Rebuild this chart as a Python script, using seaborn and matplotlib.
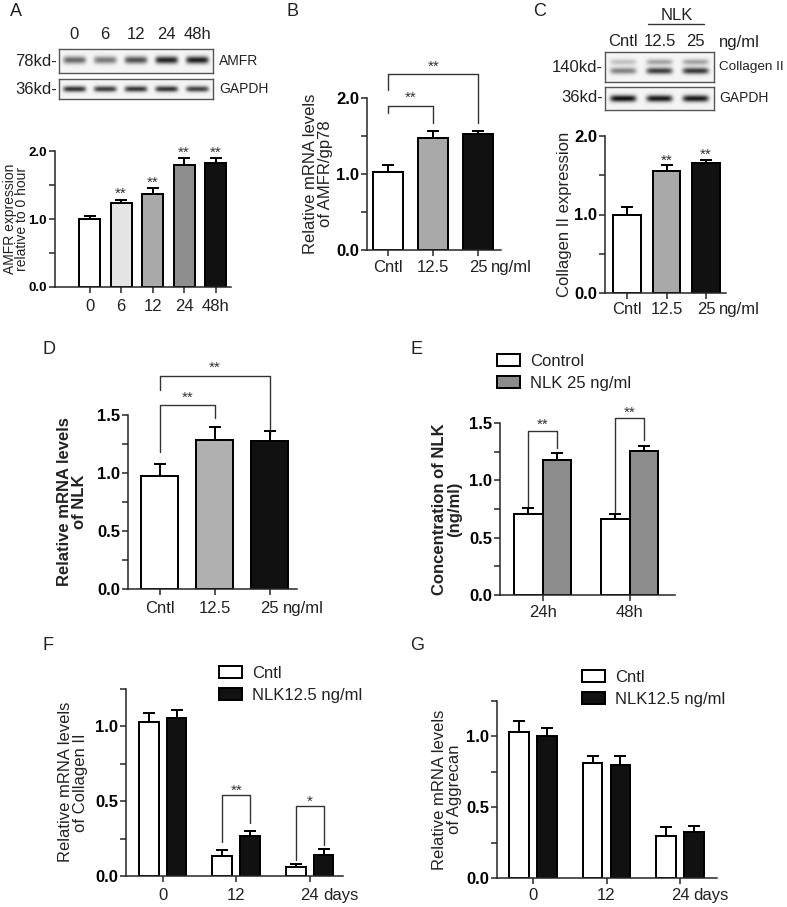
import numpy as np
import pandas as pd
import matplotlib
matplotlib.use('Agg')
import matplotlib.pyplot as plt
import seaborn as sns
from matplotlib.patches import Patch

# A: AMFR protein over time
a_times = ['0', '6', '12', '24', '48h']
a_vals = [1.00, 1.24, 1.37, 1.80, 1.82]
a_errs = [0.05, 0.045, 0.08, 0.09, 0.07]
a_stars = ['', '**', '**', '**', '**']
a_colors = ['white', '#e4e4e4', '#a9a9a9', '#8e8e8e', '#111111']
a_band_amfr = [0.55, 0.48, 0.64, 0.82, 0.84]
a_band_gapdh = [0.76, 0.72, 0.74, 0.76, 0.70]

# B, C, D: NLK dose
doses = ['Cntl', '12.5', '25']
dose_colors = ['white', '#a9a9a9', '#111111']
b_vals = [1.02, 1.47, 1.53]
b_errs = [0.10, 0.10, 0.04]
c_vals = [1.00, 1.56, 1.65]
c_errs = [0.09, 0.07, 0.05]
c_stars = ['', '**', '**']
c_band_col_top = [0.20, 0.32, 0.32]
c_band_col_low = [0.45, 0.72, 0.74]
c_band_gapdh = [0.90, 0.86, 0.86]
d_vals = [0.975, 1.285, 1.28]
d_errs = [0.105, 0.115, 0.085]

# E: NLK concentration
e_times = ['24h', '48h']
e_groups = ['Control', 'NLK 25 ng/ml']
e_ctrl = [0.71, 0.665]
e_ctrl_err = [0.05, 0.045]
e_nlk = [1.175, 1.254]
e_nlk_err = [0.06, 0.046]

# F, G: collagen II / aggrecan mRNA over days
days = ['0', '12', '24']
fg_groups = ['Cntl', 'NLK12.5 ng/ml']
f_ctrl = [1.027, 0.136, 0.062]
f_ctrl_err = [0.062, 0.037, 0.016]
f_nlk = [1.056, 0.267, 0.14]
f_nlk_err = [0.054, 0.035, 0.038]
g_ctrl = [1.033, 0.81, 0.30]
g_ctrl_err = [0.077, 0.05, 0.058]
g_nlk = [1.00, 0.80, 0.322]
g_nlk_err = [0.06, 0.065, 0.048]

# significance brackets: (bar i, bar j, left foot, top, right foot, stars y, text)
b_brackets = [(0, 1, 1.80, 1.90, 1.67, 2.07, '**'), (0, 2, 2.11, 2.32, 1.67, 2.48, '**')]
d_brackets = [(0, 1, 1.18, 1.586, 1.47, 1.69, '**'), (0, 2, 1.715, 1.835, 1.34, 1.95, '**')]
e_brackets = [(0, 1.43, 0.77, 1.285, 1.53, '**'), (1, 1.54, 0.72, 1.355, 1.635, '**')]
f_brackets = [(1, 0.54, 0.227, 0.353, 0.60, '**'), (2, 0.467, 0.11, 0.207, 0.527, '*')]

sns.set_style('ticks')
plt.rcParams['font.family'] = ['Liberation Sans', 'DejaVu Sans']
plt.rcParams['text.color'] = '#222222'
plt.rcParams['axes.linewidth'] = 1.1

W, H = 787, 907
fig = plt.figure(figsize=(W / 100, H / 100), dpi=100)
LW = 1.1


def px_axes(x0, y0, x1, y1):
    ax = fig.add_axes([x0 / W, 1 - y1 / H, (x1 - x0) / W, (y1 - y0) / H])
    ax.px_box = (x0, x1)
    return ax


def ftext(x, y, s, **kw):
    fig.text(x / W, 1 - y / H, s, **kw)


def style(ax, ymax, major, minor, ylabel, label_right, bold=False, xpad=3, lfs=12, lsp=1.0, tfs=12):
    sns.despine(ax=ax)
    ax.set_ylim(0, ymax)
    ax.set_yticks(major, ['%.1f' % v for v in major], fontweight='bold', fontsize=tfs, color='black')
    ax.set_yticks(minor, minor=True)
    ax.tick_params(axis='y', which='both', length=4.5, width=LW, pad=1.2)
    ax.tick_params(axis='x', length=4.5, width=LW, pad=xpad, labelsize=12, labelcolor='#222222')
    ax.set_xlabel('')
    ax.set_ylabel(ylabel, fontsize=lfs, linespacing=lsp,
                  fontweight='bold' if bold else 'normal', color='#222222')
    x0, x1 = ax.px_box
    ax.yaxis.set_label_coords((label_right - x0) / (x1 - x0), 0.5)


def simple_bars(ax, cats, vals, errs, colors, width):
    sns.barplot(x=cats, y=vals, hue=cats, order=cats, hue_order=cats, palette=colors, legend=False,
                edgecolor='black', linewidth=LW * 1.3, width=width, errorbar=None, ax=ax)
    bars = sorted(ax.patches, key=lambda p: p.get_x())
    xs = [b.get_x() + b.get_width() / 2 for b in bars]
    ax.errorbar(xs, vals, yerr=[np.zeros(len(vals)), errs], fmt='none', ecolor='black',
                elinewidth=LW * 1.3, capsize=4.5, capthick=LW * 1.3, zorder=4)
    return xs


def group_bars(ax, cats, groups, ctrl, nlk, ctrl_err, nlk_err, colors, width, gap, leg_xy):
    df = pd.DataFrame({'x': cats * 2, 'group': [groups[0]] * len(cats) + [groups[1]] * len(cats),
                       'value': ctrl + nlk})
    sns.barplot(data=df, x='x', y='value', hue='group', order=cats, hue_order=groups, palette=colors,
                edgecolor='black', linewidth=LW * 1.3, width=width, gap=gap, errorbar=None,
                legend=False, ax=ax)
    pos = []
    for cont, errs in zip(ax.containers, [ctrl_err, nlk_err]):
        xs = [b.get_x() + b.get_width() / 2 for b in cont]
        ys = [b.get_height() for b in cont]
        ax.errorbar(xs, ys, yerr=[np.zeros(len(ys)), errs], fmt='none', ecolor='black',
                    elinewidth=LW * 1.3, capsize=4, capthick=LW * 1.3, zorder=4)
        pos.append(xs)
    ax.legend(handles=[Patch(facecolor=c, edgecolor='black', linewidth=LW * 1.3) for c in colors],
              labels=groups, frameon=False, fontsize=12, loc='upper left',
              bbox_to_anchor=(leg_xy[0] / W, 1 - leg_xy[1] / H), bbox_transform=fig.transFigure,
              handlelength=1.35, handleheight=0.72, handletextpad=0.65, labelspacing=0.42,
              borderpad=0, borderaxespad=0)
    return pos


def stars(ax, x, y, s):
    ax.annotate(s, xy=(x, y), xytext=(0, -6.5), textcoords='offset points', ha='center',
                va='baseline', fontsize=11, color='#333333', annotation_clip=False)


def bracket(ax, x1, x2, yl, yt, yr):
    ax.plot([x1, x1, x2, x2], [yl, yt, yt, yr], color='#333333', lw=1.0, clip_on=False)


def unit(ax, x, text, pad):
    ax.annotate(text, xy=(x, 0), xycoords=('data', 'axes fraction'), xytext=(9.5, -(4.5 + pad)),
                textcoords='offset points', ha='left', va='top', fontsize=12, color='#222222')


def blot(box, rows, lane_w):
    ax = px_axes(*box)
    n = len(rows[0][2])
    gx, gy = np.meshgrid(np.linspace(-0.5, n - 0.5, 300), np.linspace(0, 1, 60))
    img = np.full(gx.shape, 0.96)
    for yc, hw, ints in rows:
        for i, s in enumerate(ints):
            img -= s * np.exp(-((gx - i) / lane_w) ** 6) * np.exp(-((gy - yc) / hw) ** 2)
    ax.imshow(img, cmap='gray', vmin=0, vmax=1, extent=(-0.5, n - 0.5, 1, 0), aspect='auto',
              interpolation='bilinear')
    ax.set_xticks([])
    ax.set_yticks([])
    for sp in ax.spines.values():
        sp.set_color('#555555')
        sp.set_linewidth(1.0)
    return ax


# ---------- A ----------
ax_amfr = blot((59, 49, 213, 73), [(0.48, 0.15, a_band_amfr)], 0.37)
ax_gap = blot((59, 79, 213, 99), [(0.5, 0.15, a_band_gapdh)], 0.37)
for i, t in enumerate(a_times):
    ax_amfr.annotate(t, xy=(i, 1), xycoords=('data', 'axes fraction'), xytext=(0, 10.5),
                     textcoords='offset points', ha='center', va='center', fontsize=12)
ftext(57, 61, '78kd-', ha='right', va='center', fontsize=12)
ftext(57, 89, '36kd-', ha='right', va='center', fontsize=12)
ftext(219, 61, 'AMFR', ha='left', va='center', fontsize=10)
ftext(219, 89, 'GAPDH', ha='left', va='center', fontsize=10)

ax = px_axes(55, 151, 231.4, 287)
xs = simple_bars(ax, a_times, a_vals, a_errs, a_colors, 0.67)
ax.set_xlim(-1.1, 4.5)
style(ax, 2.0, [0, 1, 2], [0.5, 1.5], 'AMFR expression\nrelative to 0 hour', 28.5, xpad=4,
      lfs=10, lsp=0.8, tfs=9.5)
for x, v, e, s in zip(xs, a_vals, a_errs, a_stars):
    if s:
        stars(ax, x, v + e + 0.16, s)

# ---------- B ----------
ax = px_axes(367, 98, 500.7, 250)
xs = simple_bars(ax, doses, b_vals, b_errs, dose_colors, 0.67)
ax.set_xlim(-0.47, 2.5)
style(ax, 2.0, [0, 1, 2], [0.5, 1.5], 'Relative mRNA levels\nof AMFR/gp78', 333, xpad=3)
unit(ax, xs[2], 'ng/ml', 3)
for i, j, yl, yt, yr, ys, s in b_brackets:
    bracket(ax, xs[i], xs[j], yl, yt, yr)
    stars(ax, (xs[i] + xs[j]) / 2, ys, s)

# ---------- C ----------
ax_col = blot((605, 52, 714, 82), [(0.33, 0.10, c_band_col_top), (0.63, 0.11, c_band_col_low)], 0.36)
ax_cg = blot((605, 87, 714, 110), [(0.5, 0.15, c_band_gapdh)], 0.36)
for i, t in enumerate(doses):
    ax_col.annotate(t, xy=(i, 1), xycoords=('data', 'axes fraction'), xytext=(0, 7.5),
                    textcoords='offset points', ha='center', va='center', fontsize=12)
ftext(719, 42, 'ng/ml', ha='left', va='center', fontsize=12)
ftext(677, 15, 'NLK', ha='center', va='center', fontsize=12)
fig.add_artist(plt.Line2D([648 / W, 704 / W], [1 - 24 / H, 1 - 24 / H], color='#333333', lw=1.0))
ftext(603, 67, '140kd-', ha='right', va='center', fontsize=12)
ftext(603, 98, '36kd-', ha='right', va='center', fontsize=12)
ftext(719, 67, 'Collagen II', ha='left', va='center', fontsize=9.7)
ftext(719, 98, 'GAPDH', ha='left', va='center', fontsize=10)

ax = px_axes(605, 136, 725.9, 293)
xs = simple_bars(ax, doses, c_vals, c_errs, dose_colors, 0.70)
ax.set_xlim(-0.56, 2.5)
style(ax, 2.0, [0, 1, 2], [0.5, 1.5], 'Collagen II expression', 572, xpad=2)
unit(ax, xs[2], 'ng/ml', 2)
for x, v, e, s in zip(xs, c_vals, c_errs, c_stars):
    if s:
        stars(ax, x, v + e + 0.12, s)

# ---------- D ----------
ax = px_axes(128, 415, 297.4, 589)
xs = simple_bars(ax, doses, d_vals, d_errs, ['white', '#b0b0b0', '#111111'], 0.67)
ax.set_xlim(-0.58, 2.5)
style(ax, 1.5, [0, 0.5, 1.0, 1.5], [0.25, 0.75, 1.25], 'Relative mRNA levels\nof NLK', 87, bold=True,
      xpad=4)
unit(ax, xs[2], 'ng/ml', 4)
for i, j, yl, yt, yr, ys, s in d_brackets:
    bracket(ax, xs[i], xs[j], yl, yt, yr)
    stars(ax, (xs[i] + xs[j]) / 2, ys, s)

# ---------- E ----------
ax = px_axes(500, 423, 674.9, 595)
pos = group_bars(ax, e_times, e_groups, e_ctrl, e_nlk, e_ctrl_err, e_nlk_err, ['white', '#8c8c8c'],
                 0.66, 0, (497, 354))
ax.set_xlim(-0.49, 1.52)
style(ax, 1.5, [0, 0.5, 1.0, 1.5], [0.25, 0.75, 1.25], 'Concentration of NLK\n(ng/ml)', 462, bold=True,
      xpad=3)
for k, yt, yl, yr, ys, s in e_brackets:
    bracket(ax, pos[0][k], pos[1][k], yl, yt, yr)
    stars(ax, (pos[0][k] + pos[1][k]) / 2, ys, s)

# ---------- F ----------
ax = px_axes(126, 688.5, 342.8, 876)
pos = group_bars(ax, days, fg_groups, f_ctrl, f_nlk, f_ctrl_err, f_nlk_err, ['white', '#111111'],
                 0.76, 0.3, (219, 666))
ax.set_xlim(-0.5, 2.45)
style(ax, 1.25, [0, 0.5, 1.0], [0.25, 0.75, 1.25], 'Relative mRNA levels\nof Collagen II', 88, xpad=4)
unit(ax, 2, 'days', 4)
for k, yt, yl, yr, ys, s in f_brackets:
    bracket(ax, pos[0][k], pos[1][k], yl, yt, yr)
    stars(ax, (pos[0][k] + pos[1][k]) / 2, ys, s)

# ---------- G ----------
ax = px_axes(497, 701, 716.8, 878)
group_bars(ax, days, fg_groups, g_ctrl, g_nlk, g_ctrl_err, g_nlk_err, ['white', '#111111'],
           0.76, 0.3, (582, 670))
ax.set_xlim(-0.49, 2.5)
style(ax, 1.25, [0, 0.5, 1.0], [0.25, 0.75, 1.25], 'Relative mRNA levels\nof Aggrecan', 462, xpad=3)
unit(ax, 2, 'days', 3)

# panel letters
for letter, x, y in [('A', 10, 11), ('B', 287, 11), ('C', 533, 11), ('D', 43, 349),
                     ('E', 410, 349), ('F', 43, 645), ('G', 410, 646)]:
    ftext(x, y, letter, ha='left', va='center', fontsize=13)

fig.savefig('out.png', dpi=100)
